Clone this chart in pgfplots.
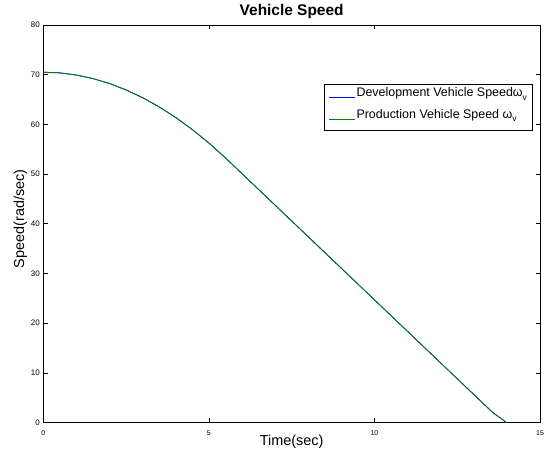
\documentclass[border=0pt]{standalone}
\usepackage{fontspec}
\setmainfont{Liberation Sans}
\usepackage{pgfplots}
\pgfplotsset{compat=1.18}
\definecolor{mblue}{rgb}{0,0,1}
\definecolor{mgreen}{rgb}{0,0.5,0}
\pgfplotstableread{
t v
0 70.5
0.5 70.36
1.0 69.93
1.5 69.22
2.0 68.22
2.5 66.94
3.0 65.37
3.5 63.52
4.0 61.38
4.5 58.96
5.0 56.25
5.5 53.26
6.0 50.09
6.5 46.91
7.0 43.74
7.5 40.56
8.0 37.39
8.5 34.21
9.0 31.04
9.5 27.86
10.0 24.69
10.5 21.51
11.0 18.34
11.5 15.16
12.0 11.99
12.5 8.81
13.0 5.64
13.5 2.46
13.6 1.85
13.8 0.95
13.98 0
}\devdata
\pgfplotstableread{
t v
0 70.5
0.5 70.36
1.0 69.93
1.5 69.22
2.0 68.22
2.5 66.94
3.0 65.37
3.5 63.52
4.0 61.38
4.5 58.96
5.0 56.25
5.5 53.26
6.0 50.09
6.5 46.91
7.0 43.74
7.5 40.56
8.0 37.39
8.5 34.21
9.0 31.04
9.5 27.86
10.0 24.69
10.5 21.51
11.0 18.34
11.5 15.16
12.0 11.99
12.5 8.81
13.0 5.64
13.5 2.46
13.6 1.85
13.8 0.95
13.98 0
}\proddata
\newcommand{\omv}{ω\raisebox{-3.6bp}{\fontsize{8.5}{9}\selectfont v}}
\begin{document}
\begin{tikzpicture}
\begin{axis}[name=ax, scale only axis, width=496.7bp, height=397.5bp,
 xmin=0, xmax=15, ymin=0, ymax=80,
 xtick={0,5,10,15}, ytick={0,10,...,80},
 tick align=inside, tick pos=both, major tick length=4.5bp,
 axis line style={line width=0.8bp},
 every tick/.style={black, line width=0.6bp},
 /pgf/number format/assume math mode=true,
 yticklabel style={font=\fontsize{8}{9}\selectfont},
 xticklabel style={font=\fontsize{7}{8}\selectfont, yshift=-4.5bp},
 title={Vehicle Speed},
 title style={font=\fontsize{15.5}{18}\selectfont\bfseries, at={(axis description cs:0.5,1)}, anchor=base, yshift=4bp, inner sep=0pt},
 xlabel={Time(sec)},
 xlabel style={font=\fontsize{14.5}{17}\selectfont, at={(axis description cs:0.5,-0.049)}, anchor=center},
 ylabel={Speed(rad/sec)},
 ylabel style={font=\fontsize{14.5}{17}\selectfont, at={(axis description cs:-0.0463,0.512)}, anchor=center},
 legend style={at={(axis description cs:0.565,0.851)}, anchor=north west, draw=black, line width=0.8bp, fill=white,
   font=\fontsize{12.5}{15}\selectfont, inner xsep=4.6bp, inner ysep=2.5bp, row sep=2.6bp,
   nodes={inner xsep=1bp, inner ysep=0bp, text height=9.5bp, text depth=9.5bp}},
 legend cell align=left,
 legend image code/.code={\draw[#1, line width=0.6bp] (0bp,-1bp) -- (26bp,-1bp);},
]
\addplot[mblue, line width=0.8bp] table[x=t, y=v] {\devdata};
\addlegendentry{Development Vehicle Speed\omv\hspace{18.4bp}}
\addplot[mgreen, line width=0.8bp] table[x=t, y=v] {\proddata};
\addlegendentry{Production Vehicle Speed \omv}
\end{axis}
\pgfresetboundingbox
\path ([shift={(-43.3bp,-29.5bp)}]ax.south west) rectangle ([shift={(16bp,25bp)}]ax.north east);
\end{tikzpicture}
\end{document}
